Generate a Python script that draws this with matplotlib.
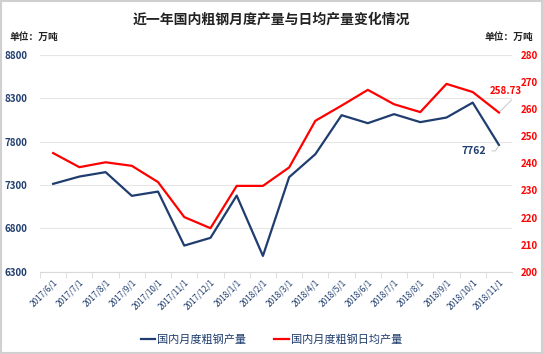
import matplotlib
matplotlib.use("Agg")
import matplotlib.pyplot as plt
from matplotlib.patches import Rectangle

plt.rcParams['font.family'] = ['Noto Sans CJK SC', 'DejaVu Sans']

months = ['2017/6/1', '2017/7/1', '2017/8/1', '2017/9/1', '2017/10/1', '2017/11/1',
          '2017/12/1', '2018/1/1', '2018/2/1', '2018/3/1', '2018/4/1', '2018/5/1',
          '2018/6/1', '2018/7/1', '2018/8/1', '2018/9/1', '2018/10/1', '2018/11/1']
monthly = [7314, 7398, 7449, 7176, 7225, 6603, 6692, 7179, 6484, 7391,
           7656, 8105, 8013, 8117, 8025, 8078, 8250, 7762]
daily = [243.8, 238.6, 240.4, 239.1, 233.1, 220.2, 216.1, 231.7, 231.7, 238.5,
         255.7, 261.3, 267.1, 261.8, 258.9, 269.3, 266.3, 258.73]

navy = '#1F3D6E'
red = '#FF0000'

fig = plt.figure(figsize=(5.43, 3.54), dpi=100)
ax = fig.add_axes([0.0737, 0.232, 0.8693, 0.613])
ax2 = ax.twinx()

x = list(range(len(months)))
l1, = ax.plot(x, monthly, color=navy, lw=1.6, label='国内月度粗钢产量')
l2, = ax2.plot(x, daily, color=red, lw=1.6, label='国内月度粗钢日均产量')

ax.set_xlim(-0.5, len(months) - 0.5)
ax.set_ylim(6300, 8800)
ax.set_yticks([6300, 6800, 7300, 7800, 8300, 8800])
ax2.set_ylim(200, 280)
ax2.set_yticks(range(200, 281, 10))

ax.grid(axis='y', color='#E6E6E6', lw=0.8)
ax.set_axisbelow(True)
for a in (ax, ax2):
    for s in a.spines.values():
        s.set_visible(False)
ax.spines['bottom'].set_visible(True)
ax.spines['bottom'].set_color('#D9D9D9')

ax.set_xticks([i + 0.5 for i in x[:-1]] + [-0.5], minor=True)
ax.tick_params(axis='x', which='minor', length=4, color='#D9D9D9')
ax.set_xticks(x)
ax.set_xticklabels(months, rotation=45, ha='right', rotation_mode='anchor',
                   fontsize=6, color=navy)
ax.tick_params(axis='x', which='major', length=0, pad=4)
ax.tick_params(axis='y', length=0, pad=9, labelsize=7, labelcolor=navy)
ax2.tick_params(axis='y', length=0, pad=6, labelsize=7, labelcolor=red)
for lab in ax.get_yticklabels() + ax2.get_yticklabels():
    lab.set_fontweight('bold')

ax.annotate('7762', xy=(17, monthly[-1]), xytext=(16.05, 7694),
            color=navy, fontsize=7.5, fontweight='bold', ha='center', va='center',
            annotation_clip=False,
            arrowprops=dict(arrowstyle='-', color='#C8C8C8', lw=0.7, shrinkA=2, shrinkB=1,
                            connectionstyle='angle,angleA=0,angleB=60,rad=0'))
ax2.annotate('258.73', xy=(17, daily[-1]), xytext=(17.25, 266.6),
             color=red, fontsize=7, fontweight='bold', ha='center', va='center',
             annotation_clip=False,
             arrowprops=dict(arrowstyle='-', color='#C8C8C8', lw=0.7, shrinkA=1, shrinkB=1,
                             connectionstyle='angle,angleA=0,angleB=45,rad=0'))

fig.text(0.5, 0.945, '近一年国内粗钢月度产量与日均产量变化情况', ha='center', va='center',
         fontsize=10, fontweight='bold', color='#222222')
fig.text(0.018, 0.895, '单位：万吨', ha='left', va='center', fontsize=7,
         fontweight='bold', color='#222222')
fig.text(0.982, 0.895, '单位：万吨', ha='right', va='center', fontsize=7,
         fontweight='bold', color='#222222')

fig.legend(handles=[l1, l2], loc='center', bbox_to_anchor=(0.5, 0.042), ncol=2,
           frameon=False, fontsize=8, handlelength=1.3, handletextpad=0.2,
           columnspacing=2.5, labelcolor=navy)

fig.patches.append(Rectangle((0.001, 0.004), 0.997, 0.993, transform=fig.transFigure,
                             fill=False, edgecolor='#D0D0D0', lw=1.5))

fig.savefig('out.png', dpi=100)
